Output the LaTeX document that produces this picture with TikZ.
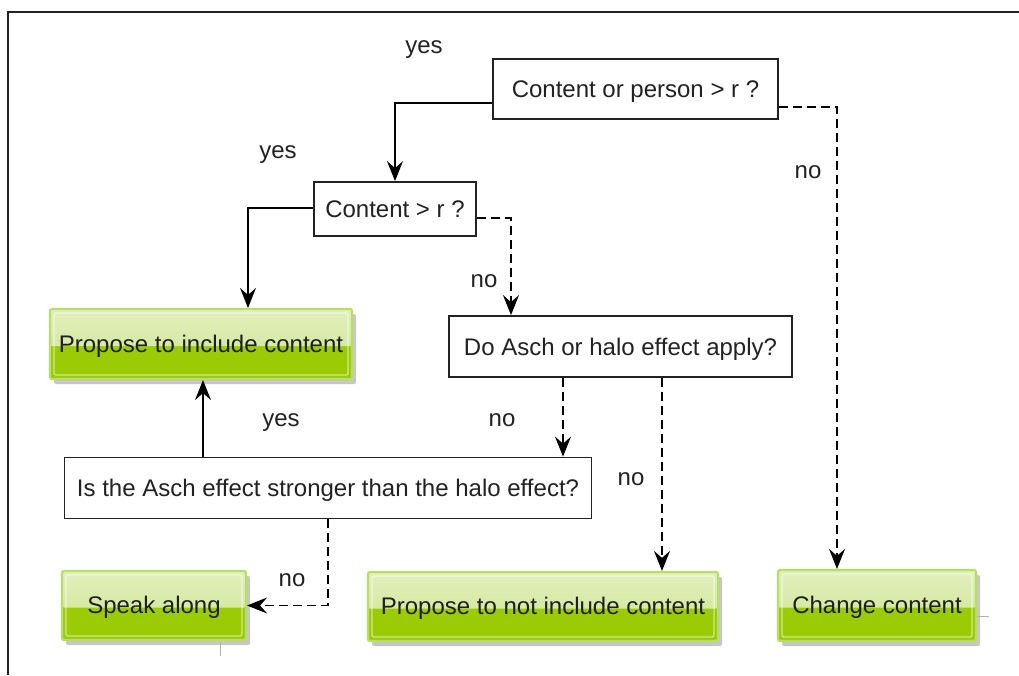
\documentclass[tikz,border=0pt]{standalone}
\usepackage{fontspec}
\setmainfont{Liberation Sans}
\usetikzlibrary{arrows.meta,shadows,calc}
\definecolor{gtop}{HTML}{E1F0BC}
\definecolor{gmid}{HTML}{CBE48E}
\definecolor{ggreen}{HTML}{9BCB05}
\definecolor{gbord}{HTML}{B9DE66}
\definecolor{ink}{HTML}{222222}
\tikzset{
  lbl/.style={font=\fontsize{24}{28}\selectfont, text=ink, inner sep=0pt,
    text height=21pt, text depth=4pt},
  qbox/.style={draw=ink, line width=1.8pt, fill=white, inner sep=0pt,
    text height=21pt, text depth=4pt,
    font=\fontsize{24}{28}\selectfont, text=ink},
  greenbox/.style={draw=gbord, line width=2.2pt, rounded corners=2pt, fill=ggreen,
    inner sep=0pt, text height=20pt, text depth=4pt,
    font=\fontsize{24}{28}\selectfont, text=black!88,
    drop shadow={shadow xshift=4pt, shadow yshift=-5pt, fill=black, opacity=0.22},
    path picture={
      \fill[top color=gtop, bottom color=gmid]
        (path picture bounding box.north west) rectangle
        ([yshift=-2pt]path picture bounding box.east);
      \draw[white, opacity=0.55, line width=1.2pt]
        ([shift={(4pt,-4pt)}]path picture bounding box.north west) rectangle
        ([shift={(-4pt,4pt)}]path picture bounding box.south east);
    }},
  solidarrow/.style={draw=black, line width=1.6pt,
    -{Stealth[length=20pt,width=16pt,inset=7pt]}},
  dasharrow/.style={draw=black, line width=1.6pt, dash pattern=on 9pt off 5pt,
    -{Stealth[length=20pt,width=16pt,inset=7pt]}},
}
\begin{document}
\begin{tikzpicture}[x=1pt,y=-1pt]
\useasboundingbox (0,0) rectangle (1019,675);
\fill[white] (0,0) rectangle (1019,675);
% frame
\draw[draw=ink, line width=1.5pt] (1019,12) -- (8,12) -- (8,675);
% decision boxes
\node[qbox, minimum width=285pt, minimum height=60pt] (A) at (635.5,89) {Content or person > r ?};
\node[qbox, minimum width=162pt, minimum height=54pt] (B) at (395,209) {Content > r ?};
\node[qbox, minimum width=343pt, minimum height=61pt] (D) at (620.5,346.5) {Do Asch or halo effect apply?};
\node[qbox, minimum width=527pt, minimum height=61pt] (E) at (328,488) {Is the Asch effect stronger than the halo effect?};
% outcome boxes
\node[greenbox, minimum width=302pt, minimum height=70pt] (P) at (201,344) {Propose to include content};
\node[greenbox, minimum width=184pt, minimum height=69pt] (S) at (154,605.5) {Speak along};
\node[greenbox, minimum width=350pt, minimum height=69pt] (F) at (543,606.5) {Propose to not include content};
\node[greenbox, minimum width=198pt, minimum height=71pt] (C) at (877,605.5) {Change content};
% labels
\node[lbl] (l1) at (424,45) {yes};
\node[lbl] (l2) at (278,150) {yes};
\node[lbl] (l3) at (808,170) {no};
\node[lbl] (l4) at (484,279) {no};
\node[lbl] (l5) at (502,418) {no};
\node[lbl] (l6) at (281,418) {yes};
\node[lbl] (l7) at (631,477) {no};
\node[lbl] (l8) at (292,578) {no};
% connectors
\draw[solidarrow] ([yshift=-14pt]A.west) -| (B.north);
\draw[dasharrow] ([yshift=-18pt]A.east) -| ([xshift=-40pt]C.north);
\draw[solidarrow] ([yshift=1pt]B.west) -| ([xshift=47pt]P.north);
\draw[dasharrow] ([yshift=-9pt]B.east) -| ([xshift=-109.5pt]D.north);
\draw[dasharrow] ([xshift=-57.5pt]D.south) -- ([xshift=-57.5pt]D.south |- E.north);
\draw[dasharrow] ([xshift=41.5pt]D.south) -- ([xshift=41.5pt]D.south |- F.north);
\draw[solidarrow] ([xshift=2pt]P.south |- E.north) -- ([xshift=2pt]P.south);
\draw[dasharrow] (E.south) |- (S.east);
% faint crop marks
\draw[gray!60, line width=0.8pt] (220,642) -- (220,656);
\draw[gray!60, line width=0.8pt] (977,616) -- (989,616);
\end{tikzpicture}
\end{document}
